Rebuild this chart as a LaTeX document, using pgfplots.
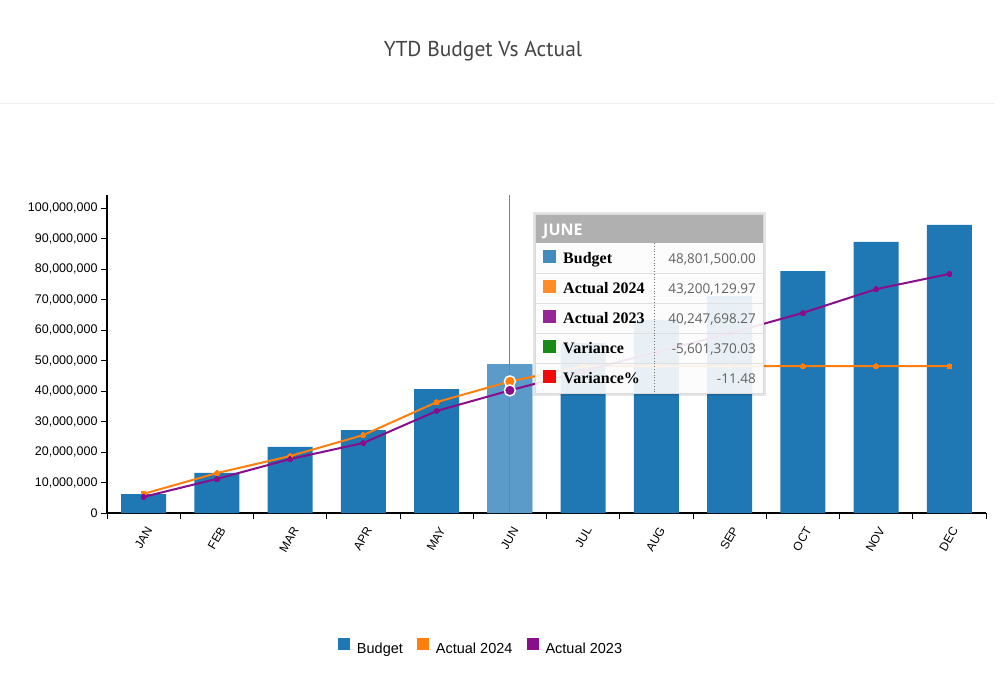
\documentclass[border=0pt]{standalone}
\usepackage{pgfplots}
\usepackage{pgfplotstable}
\pgfplotsset{compat=1.18}
\usepackage{fontspec}
\setmainfont{Liberation Sans}
\newfontfamily\titlefont{PT Sans}
\newfontfamily\serifbold{Liberation Serif}
\newfontfamily\valfont{Open Sans}
\definecolor{bud}{RGB}{31,119,180}
\definecolor{budhl}{RGB}{90,155,201}
\definecolor{act24}{RGB}{255,127,14}
\definecolor{act23}{RGB}{136,14,140}
\definecolor{varc}{RGB}{24,138,24}
\definecolor{varp}{RGB}{240,10,10}
\definecolor{hdr}{RGB}{176,176,176}
\definecolor{titlec}{RGB}{68,68,68}

\pgfplotstableread{
x budget a24 a23
0 6200000 6300000 5300000
1 13200000 13100000 11200000
2 21700000 18700000 17700000
3 27200000 25600000 23000000
4 40700000 36400000 33500000
5 48801500 43200129.97 40247698.27
6 55800000 48200000 46600000
7 63400000 48200000 52800000
8 71200000 48200000 59000000
9 79400000 48200000 65700000
10 89000000 48200000 73500000
11 94600000 48200000 78500000
}\data

\begin{document}
\begin{tikzpicture}[x=1pt,y=1pt]
\useasboundingbox (0,0) rectangle (1000,693);
\fill[white] (0,0) rectangle (1000,693);
\draw[color={rgb,255:red,236;green,238;blue,240}, line width=1pt] (0,589) -- (995,589);
\node[font=\titlefont\fontsize{21.5}{26}\selectfont, text=titlec, anchor=base] at (483,636) {YTD Budget Vs Actual};

\begin{axis}[
  at={(107pt,180pt)}, anchor=south west,
  scale only axis, width=879pt, height=318pt,
  xmin=-0.5, xmax=11.5, ymin=0, ymax=104400000,
  axis lines*=left,
  axis line style={line width=1.3pt, -},
  tick align=outside, major tick length=6pt,
  tick style={black, line width=1pt},
  scaled y ticks=false,
  ytick={0,10000000,20000000,30000000,40000000,50000000,60000000,70000000,80000000,90000000,100000000},
  yticklabels={0,{10,000,000},{20,000,000},{30,000,000},{40,000,000},{50,000,000},{60,000,000},{70,000,000},{80,000,000},{90,000,000},{100,000,000}},
  yticklabel style={font=\fontsize{12.5}{14}\selectfont},
  xtick={-0.5,0.5,1.5,2.5,3.5,4.5,5.5,6.5,7.5,8.5,9.5,10.5},
  extra x ticks={11.5},
  extra x tick labels={},
  xticklabels={JAN,FEB,MAR,APR,MAY,JUN,JUL,AUG,SEP,OCT,NOV,DEC},
  xticklabel style={font=\fontsize{12}{14}\selectfont, anchor=east, xshift=44pt, yshift=-6pt, rotate=60},
  legend style={at={(0.4255,-0.4245)}, anchor=center, draw=none, fill=none,
    legend columns=3, font=\fontsize{14.5}{17}\selectfont,
    /tikz/every even column/.append style={column sep=12pt}},
  legend image code/.code={\fill[#1] (0pt,-1pt) rectangle (12pt,11pt); \path (0pt,0pt) -- (17pt,0pt);},
]
\addplot[ybar, bar width=45pt, fill=bud, draw=none, forget plot] table[x=x,y=budget]{\data};
\addplot[ybar, bar width=45pt, fill=budhl, draw=none, forget plot] coordinates {(5,48801500)};
\draw[black!50, line width=1pt] (axis cs:5,0) -- (axis cs:5,104400000);
\addplot[act24, line width=2pt, mark=*, mark size=2.6pt, mark options={fill=act24, draw=act24, line width=0pt}, forget plot] table[x=x,y=a24]{\data};
\addplot[act23, line width=2pt, mark=*, mark size=2.6pt, mark options={fill=act23, draw=act23, line width=0pt}, forget plot] table[x=x,y=a23]{\data};
\addplot[only marks, mark=*, mark size=5.5pt, mark options={fill=act24, draw=white, line width=1.5pt}, forget plot] coordinates {(5,43200129.97)};
\addplot[only marks, mark=*, mark size=5.5pt, mark options={fill=act23, draw=white, line width=1.5pt}, forget plot] coordinates {(5,40247698.27)};
\addlegendimage{fill=bud, draw=none}
\addlegendentry{Budget}
\addlegendimage{fill=act24, draw=none}
\addlegendentry{Actual 2024}
\addlegendimage{fill=act23, draw=none}
\addlegendentry{Actual 2023}
\end{axis}

% tooltip
\fill[black, opacity=0.10] (533,297) rectangle (766,481);
\fill[white, opacity=0.9] (535,300) rectangle (763,479);
\fill[hdr] (535,450) rectangle (763,479);
\node[font=\valfont\bfseries\fontsize{16}{18}\selectfont, text=white, anchor=base west, inner sep=0pt] at (543,457.3) {JUNE};
\foreach \yy in {419.7,389.7,359.7,329.7} {\draw[black!12, line width=0.8pt] (535,\yy) -- (763,\yy);}
\draw[black!55, dotted, line width=0.8pt] (654.3,450) -- (654.3,300);
\draw[black!15, line width=0.6pt] (535,300) rectangle (763,479);
\fill[bud!85] (543.3,430.4) rectangle (556,443);
\fill[act24!90] (543.3,400.4) rectangle (556,413);
\fill[act23!90] (543.3,370.4) rectangle (556,383);
\fill[varc] (543.3,340.4) rectangle (556,353);
\fill[varp] (543.3,310.4) rectangle (556,323);
\begin{scope}[every node/.style={font=\serifbold\bfseries\fontsize{16}{18}\selectfont, anchor=base west, inner sep=0pt}]
\node at (563,429.7) {Budget};
\node at (563,399.7) {Actual 2024};
\node at (563,369.7) {Actual 2023};
\node at (563,339.7) {Variance};
\node at (563,309.7) {Variance\%};
\end{scope}
\begin{scope}[every node/.style={font=\valfont\fontsize{13.5}{16}\selectfont, text=black!62, anchor=base east, inner sep=0pt}]
\node at (756,429.7) {48,801,500.00};
\node at (756,399.7) {43,200,129.97};
\node at (756,369.7) {40,247,698.27};
\node at (756,339.7) {-5,601,370.03};
\node at (756,309.7) {-11.48};
\end{scope}
\end{tikzpicture}
\end{document}
